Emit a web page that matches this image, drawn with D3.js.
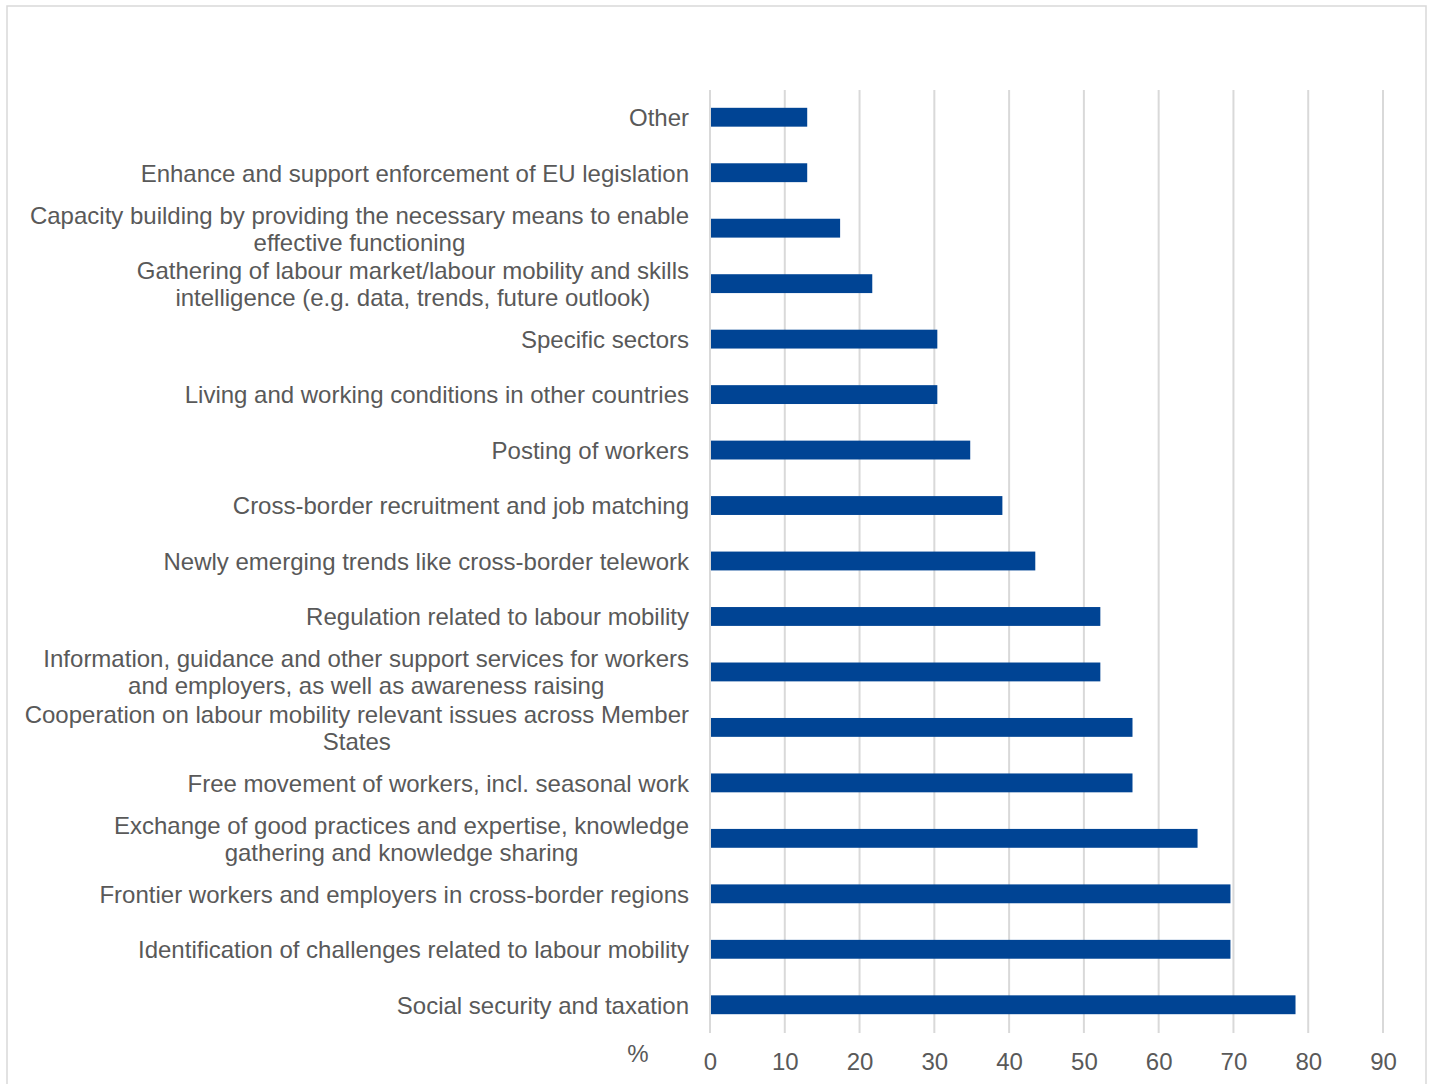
<!DOCTYPE html>
<html><head><meta charset="utf-8">
<script src="https://cdn.jsdelivr.net/npm/d3@7"></script>
<style>
body{margin:0;background:#fff;}
svg{display:block;font-family:"Liberation Sans",Arial,sans-serif;}
</style></head>
<body><svg id="chart" width="1432" height="1084"></svg>
<script>
const categories = [
  ["Other"],
  ["Enhance and support enforcement of EU legislation"],
  ["Capacity building by providing the necessary means to enable","effective functioning"],
  ["Gathering of labour market/labour mobility and skills","intelligence (e.g. data, trends, future outlook)"],
  ["Specific sectors"],
  ["Living and working conditions in other countries"],
  ["Posting of workers"],
  ["Cross-border recruitment and job matching"],
  ["Newly emerging trends like cross-border telework"],
  ["Regulation related to labour mobility"],
  ["Information, guidance and other support services for workers","and employers, as well as awareness raising"],
  ["Cooperation on labour mobility relevant issues across Member","States"],
  ["Free movement of workers, incl. seasonal work"],
  ["Exchange of good practices and expertise, knowledge","gathering and knowledge sharing"],
  ["Frontier workers and employers in cross-border regions"],
  ["Identification of challenges related to labour mobility"],
  ["Social security and taxation"]
];
const values = [13.0, 13.0, 17.4, 21.7, 30.4, 30.4, 34.8, 39.1, 43.5, 52.2, 52.2, 56.5, 56.5, 65.2, 69.6, 69.6, 78.3];
const ticks = [0,10,20,30,40,50,60,70,80,90];
const axisLabel = "%";

(function(){
const svg = d3.select("#chart");
svg.append("rect").attr("x",7).attr("y",6).attr("width",1419).attr("height",1090)
  .attr("fill","#fff").attr("stroke","#d9d9d9").attr("stroke-width",1.5);

const pLeft = 710, pRight = 1383, pTop = 90, pBottom = 1033;
const x = d3.scaleLinear().domain([0,90]).range([pLeft,pRight]);
const y = d3.scaleBand().domain(d3.range(categories.length)).range([pTop,pBottom]).paddingInner(0.66).paddingOuter(0.33);

const g = svg.append("g");
g.selectAll("line.grid").data(ticks).join("line")
  .attr("x1",d=>x(d)).attr("x2",d=>x(d)).attr("y1",pTop).attr("y2",pBottom)
  .attr("stroke","#d9d9d9").attr("stroke-width",2);

g.selectAll("rect.bar").data(values).join("rect")
  .attr("x",x(0)+1).attr("y",(d,i)=>y(i)-0.5).attr("width",d=>x(d)-x(0)-1).attr("height",y.bandwidth())
  .attr("fill","#004494");

const fs = 24, lh = 27;
categories.forEach((lines,i)=>{
  const cy = y(i)+y.bandwidth()/2;
  const t = g.append("text").attr("font-size",fs).attr("fill","#595959");
  const n = lines.length;
  lines.forEach((ln,k)=>{
    t.append("tspan").attr("y", cy + (k-(n-1)/2)*lh).attr("dy","0.35em").text(ln);
  });
  if(n===1){
    t.attr("text-anchor","end").selectAll("tspan").attr("x",689);
  } else {
    let maxW = 0;
    t.selectAll("tspan").each(function(){maxW=Math.max(maxW,this.getComputedTextLength());});
    t.attr("text-anchor","middle").selectAll("tspan").attr("x",689-maxW/2);
  }
});

const axis = d3.axisBottom(x).tickValues(ticks).tickSize(0).tickPadding(0);
const ag = svg.append("g").attr("transform",`translate(0,${pBottom})`).call(axis);
ag.select(".domain").remove();
ag.selectAll("text").attr("font-size",fs).attr("fill","#595959")
  .attr("font-family","Liberation Sans, Arial, sans-serif").attr("dy",null).attr("y",37);

svg.append("text").attr("x",638).attr("y",1062).attr("text-anchor","middle")
  .attr("font-size",fs).attr("fill","#595959").text(axisLabel);
})();
</script></body></html>
